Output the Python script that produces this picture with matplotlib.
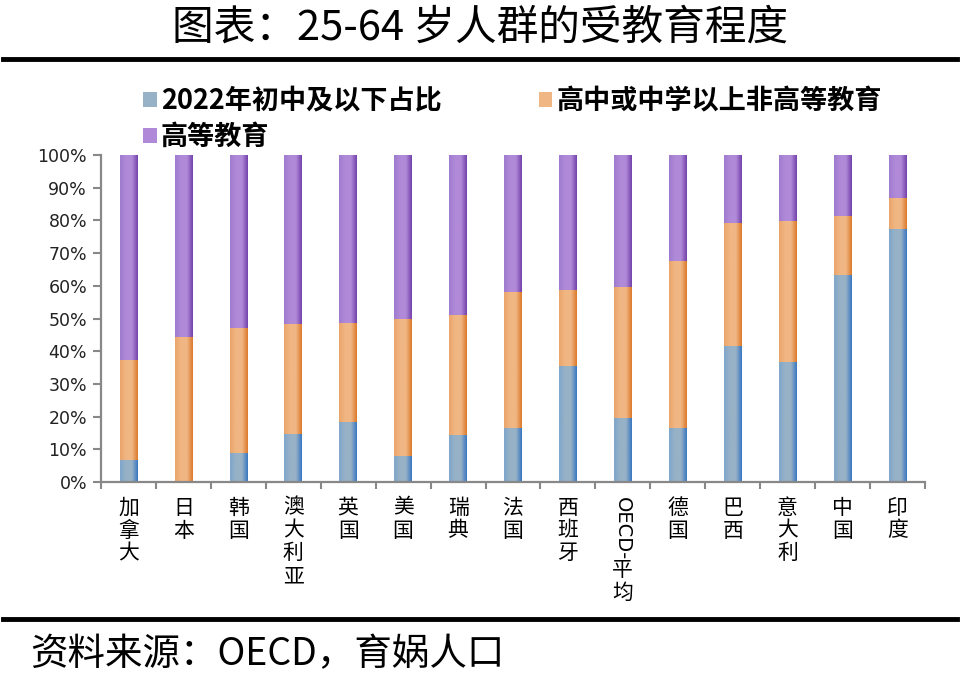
import numpy as np
import matplotlib
matplotlib.use("Agg")
import matplotlib.pyplot as plt
from matplotlib.colors import LinearSegmentedColormap
from matplotlib.lines import Line2D

plt.rcParams['font.family'] = ['Noto Sans CJK SC', 'DejaVu Sans']

countries = ['加拿大', '日本', '韩国', '澳大利亚', '英国', '美国', '瑞典', '法国',
             '西班牙', 'OECD-平均', '德国', '巴西', '意大利', '中国', '印度']
# share of 25-64 population, %
lower_secondary = [6.6, 0.0, 8.9, 14.8, 18.4, 8.1, 14.3, 16.6, 35.6, 19.5, 16.6, 41.6, 36.8, 63.4, 77.4]
upper_secondary = [30.6, 44.2, 38.2, 33.5, 30.2, 41.6, 36.9, 41.6, 23.0, 40.2, 50.9, 37.7, 42.9, 18.0, 9.6]
tertiary = [100 - a - b for a, b in zip(lower_secondary, upper_secondary)]
series_names = ['2022年初中及以下占比', '高中或中学以上非高等教育', '高等教育']
yticks = [0, 10, 20, 30, 40, 50, 60, 70, 80, 90, 100]

# left / middle / right shade of each series (bars have a soft gradient)
shades = [['#7fa6cc', '#97b1c6', '#3a77c1'],
          ['#eaa46c', '#f0b683', '#dc7a2c'],
          ['#9f7bd0', '#b08ad8', '#7442ad']]

fig = plt.figure(figsize=(9.6, 6.76), dpi=100)
ax = fig.add_axes([101/960, 1 - 482/676, 824/960, 327/676])

x = np.arange(len(countries))
w = 0.32
bottom = np.zeros(len(countries))
handles = []
for vals, name, sh in zip([lower_secondary, upper_secondary, tertiary], series_names, shades):
    bars = ax.bar(x, vals, w, bottom=bottom, color=sh[1], linewidth=0, label=name)
    cmap = LinearSegmentedColormap.from_list('g', [sh[0], sh[1], sh[1], sh[2]])
    grad = np.linspace(0, 1, 64).reshape(1, -1)
    for p in bars.patches:
        if p.get_height() <= 0:
            continue
        ax.imshow(grad, cmap=cmap, aspect='auto', interpolation='bilinear',
                  extent=[p.get_x(), p.get_x() + p.get_width(), p.get_y(), p.get_y() + p.get_height()],
                  zorder=2)
    handles.append(bars)
    bottom += np.array(vals)

ax.set_xlim(-0.5, len(countries) - 0.5)
ax.set_ylim(0, 100)
ax.set_yticks(yticks)
ax.set_yticklabels(['%d%%' % t for t in yticks], fontsize=12.5, family='DejaVu Sans', color='#222222')
ax.set_xticks(np.arange(len(countries) + 1) - 0.5)
ax.set_xticklabels([])
ax.tick_params(axis='y', length=6, width=1.5, color='#888888', pad=4)
ax.tick_params(axis='x', length=5, width=1.5, color='#888888')
for s in ['top', 'right']:
    ax.spines[s].set_visible(False)
for s in ['left', 'bottom']:
    ax.spines[s].set_color('#888888')
    ax.spines[s].set_linewidth(1.6)

# vertical category labels
tr = ax.get_xaxis_transform()
for i, c in enumerate(countries):
    if c.startswith('OECD'):
        ax.text(i, -0.045, 'OECD-', rotation=270, ha='center', va='top', transform=tr,
                fontsize=14, family='DejaVu Sans')
        ax.text(i, -0.235, '平\n均', ha='center', va='top', transform=tr,
                fontsize=15, linespacing=1.05)
    else:
        ax.text(i, -0.045, '\n'.join(c), ha='center', va='top', transform=tr,
                fontsize=15, linespacing=1.05)

# legend: row 1 two entries, row 2 third entry
leg = fig.legend([handles[0], handles[2], handles[1]],
                 [series_names[0], series_names[2], series_names[1]],
                 ncol=2, loc='upper left', bbox_to_anchor=(143/960, 1 - 87/676),
                 frameon=False, borderpad=0, borderaxespad=0,
                 handlelength=0.5, handleheight=0.5, handletextpad=0.15,
                 columnspacing=3.6, labelspacing=0.3,
                 prop={'size': 19.5, 'weight': 'bold', 'family': ['Noto Sans CJK SC', 'DejaVu Sans']})

fig.text(0.5, 1 - 28/676, '图表：25-64 岁人群的受教育程度', ha='center', va='center', fontsize=30)
fig.add_artist(Line2D([3/960, 957/960], [1 - 59/676, 1 - 59/676], color='black', lw=3.5))
fig.add_artist(Line2D([3/960, 957/960], [1 - 619/676, 1 - 619/676], color='black', lw=3.5))
fig.text(30/960, 1 - 655/676, '资料来源：OECD，育娲人口', ha='left', va='center',
         fontsize=27, style='italic')

fig.savefig('out.png', dpi=100)
